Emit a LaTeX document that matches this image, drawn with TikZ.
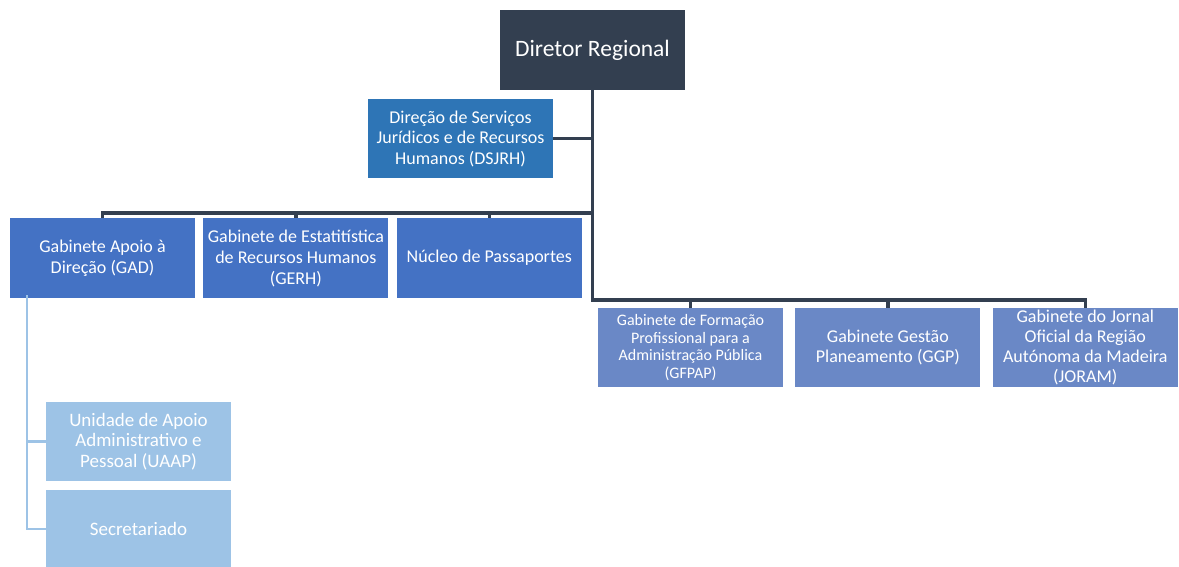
\documentclass[tikz,border=0pt]{standalone}
\usepackage{fontspec}
\setmainfont{Carlito}
\usetikzlibrary{positioning}

\definecolor{darkslate}{HTML}{333F50}
\definecolor{midblue}{HTML}{2E75B6}
\definecolor{rowblue}{HTML}{4472C4}
\definecolor{paleblue}{HTML}{6A88C6}
\definecolor{lightblue}{HTML}{9DC3E6}

\begin{document}
\begin{tikzpicture}[
			x=1pt, y=-1pt,
			node distance=8pt,
			unit/.style = {minimum width=185pt, minimum height=80pt, inner sep=0pt,
				align=center, text=white,
				font=\fontsize{18}{21}\selectfont},
			trunk/.style = {draw=darkslate, line width=3.5pt},
			sub/.style = {draw=lightblue, line width=2.5pt}
		]
		\useasboundingbox (0,0) rectangle (1179,567);
		\node[unit, fill=darkslate, font=\fontsize{23.5}{27}\selectfont] (dr) at (592.5,50) {Diretor Regional};
		\node[unit, fill=midblue, minimum height=79pt, font=\fontsize{18}{20.5}\selectfont] (dsjrh) at (460.5,138.5) {Direção de Serviços\\Jurídicos e de Recursos\\Humanos (DSJRH)};
		% Level 1.
		\node[unit, fill=rowblue] (gad) at (102.5,258) {Gabinete Apoio à\\Direção (GAD)};
		\node[unit, fill=rowblue, right=of gad] (gerh) {Gabinete de Estatitística\\de Recursos Humanos\\(GERH)};
		\node[unit, fill=rowblue, right=of gerh] (np) {Núcleo de Passaportes};
		% Level 2.
		\node[unit, fill=paleblue, minimum height=79pt, font=\fontsize{16}{17.5}\selectfont] (gfpap) at (690.5,347.5) {Gabinete de Formação\\Profissional para a\\Administração Pública\\(GFPAP)};
		\node[unit, fill=paleblue, minimum height=79pt, font=\fontsize{18}{20.5}\selectfont, right=12pt of gfpap] (ggp) {Gabinete Gestão\\Planeamento (GGP)};
		\node[unit, fill=paleblue, minimum height=79pt, font=\fontsize{18}{20}\selectfont, right=12pt of ggp] (joram) {Gabinete do Jornal\\Oficial da Região\\Autónoma da Madeira\\(JORAM)};
		% GAD units.
		\node[unit, fill=lightblue, minimum height=79pt, font=\fontsize{19}{20.5}\selectfont] (uaap) at (138.5,441.5) {Unidade de Apoio\\Administrativo e\\Pessoal (UAAP)};
		\node[unit, fill=lightblue, minimum height=77pt, font=\fontsize{19}{20.5}\selectfont, below=9pt of uaap] (sec) {Secretariado};

		\coordinate (top) at (0,213);
		\coordinate (low) at (0,300);
		\draw[trunk] (dr.south) -- (dr.south |- low) -| (joram.north);
		\draw[trunk] (dr.south |- top) -| (gad.north);
		\draw[trunk] (gerh.north) -- (gerh.north |- top);
		\draw[trunk] (np.north) -- (np.north |- top);
		\draw[trunk] (ggp.north) -- (ggp.north |- low);
		\draw[trunk] (gfpap.north) -- (gfpap.north |- low);
		\draw[trunk] (dsjrh.east) -- (dsjrh.east -| dr.south);
		\draw[sub] ([xshift=17pt,yshift=3pt]gad.south west) |- (uaap.west);
		\draw[sub] ([xshift=17pt,yshift=3pt]gad.south west) |- (sec.west);
	\end{tikzpicture}
\end{document}
